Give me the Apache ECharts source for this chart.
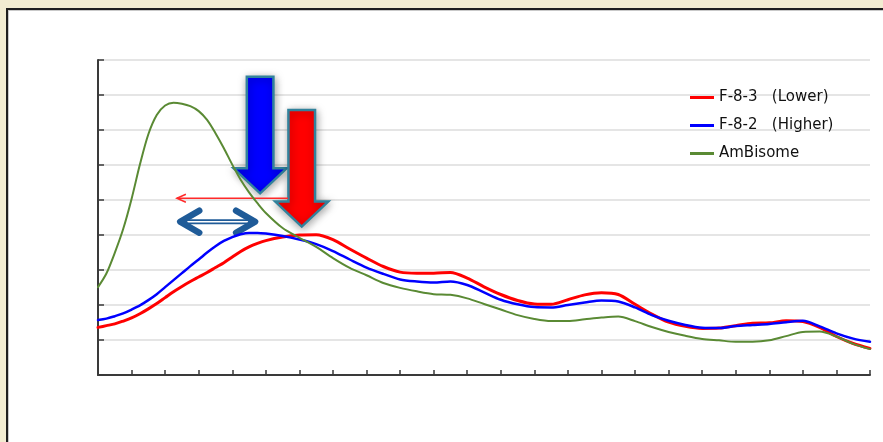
<!DOCTYPE html>
<html>
<head>
<meta charset="utf-8">
<script src="https://cdn.jsdelivr.net/npm/echarts@6/dist/echarts.min.js"></script>
<style>
  html, body { margin: 0; padding: 0; width: 883px; height: 442px; overflow: hidden; background: #f2ecd1; }
  #panel { position: absolute; left: 6px; top: 8px; width: 920px; height: 480px; background: #fff;
           border: 2px solid #1e1e1e; box-shadow: inset 1px 1px 0 #c9c9c9; }
  #chart { position: absolute; left: 0; top: 0; width: 883px; height: 442px; }
</style>
</head>
<body>
<div id="panel"></div>
<div id="chart"></div>
<script>
// Sample positions along the x axis (axis units, one unit per tick)
const positions = [
  0, 0.25, 0.5, 0.75, 1, 1.25, 1.5, 1.75, 2, 2.25, 2.5, 2.75, 3, 3.25, 3.5, 3.75, 4, 4.25, 4.5, 4.75, 5,
  5.5, 6, 6.5, 7, 7.5, 8, 8.5, 9, 9.5, 10, 10.5, 11, 11.5, 12, 12.5, 13, 13.5, 14, 14.5, 15,
  15.5, 16, 16.5, 17, 17.5, 18, 18.5, 19, 19.5, 20, 20.5, 21, 21.5, 22, 22.5, 23
];

// F-8-3 (Lower)
const lowerF83 = [
  1.36, 1.41, 1.46, 1.54, 1.63, 1.75, 1.89, 2.04, 2.21, 2.38, 2.53, 2.67, 2.80, 2.93, 3.07, 3.21, 3.37, 3.53, 3.66, 3.76, 3.84,
  3.94, 4.00, 4.01, 3.87, 3.60, 3.34, 3.10, 2.94, 2.91, 2.91, 2.93, 2.77, 2.52, 2.30, 2.13, 2.03, 2.02, 2.15, 2.29, 2.35,
  2.30, 2.02, 1.74, 1.51, 1.39, 1.33, 1.34, 1.41, 1.48, 1.49, 1.55, 1.53, 1.36, 1.10, 0.90, 0.76
];

// F-8-2 (Higher)
const higherF82 = [
  1.57, 1.61, 1.68, 1.76, 1.87, 1.99, 2.14, 2.31, 2.51, 2.71, 2.91, 3.11, 3.30, 3.50, 3.68, 3.83, 3.94, 4.02, 4.06, 4.06, 4.04,
  3.97, 3.87, 3.74, 3.54, 3.30, 3.07, 2.89, 2.73, 2.67, 2.64, 2.67, 2.57, 2.36, 2.15, 2.02, 1.94, 1.93, 2.00, 2.07, 2.13,
  2.10, 1.93, 1.71, 1.55, 1.43, 1.35, 1.34, 1.40, 1.43, 1.46, 1.51, 1.55, 1.39, 1.19, 1.04, 0.95
];

// AmBisome
const ambisome = [
  2.51, 2.90, 3.49, 4.17, 5.03, 6.02, 6.88, 7.43, 7.70, 7.78, 7.75, 7.68, 7.54, 7.29, 6.91, 6.48, 6.01, 5.58, 5.22, 4.91, 4.63,
  4.20, 3.92, 3.66, 3.34, 3.06, 2.85, 2.63, 2.49, 2.39, 2.31, 2.29, 2.19, 2.03, 1.87, 1.71, 1.60, 1.54, 1.54, 1.59, 1.64,
  1.67, 1.54, 1.37, 1.23, 1.12, 1.03, 0.99, 0.95, 0.95, 0.99, 1.11, 1.23, 1.24, 1.10, 0.89, 0.74
];

const seriesNames = ['F-8-3   (Lower)', 'F-8-2   (Higher)', 'AmBisome'];
const seriesValues = [lowerF83, higherF82, ambisome];
const seriesColors = ['#ff0000', '#0000ff', '#5a8a34'];
const seriesWidths = [3, 2.5, 2];

// Annotation anchors, in axis units
const bigArrowTips = [[4.83, 5.19], [6.07, 4.24]];
const bigArrowFills = ['#0000ff', '#ff0000'];
const shiftArrow = { from: [5.66, 5.05], to: [2.35, 5.05] };
const rangeArrow = { left: [2.39, 4.38], right: [4.74, 4.38] };

const chart = echarts.init(document.getElementById('chart'), null, { renderer: 'canvas' });

const series = seriesNames.map((name, i) => ({
  name: name,
  type: 'line',
  data: positions.map((x, k) => [x, seriesValues[i][k]]),
  smooth: 0.3,
  showSymbol: false,
  symbol: 'none',
  color: seriesColors[i],
  lineStyle: { color: seriesColors[i], width: seriesWidths[i], cap: 'round', join: 'round' },
  z: 3 + i
}));

chart.setOption({
  animation: false,
  grid: { left: 98, right: 13, top: 60, bottom: 67, containLabel: false },
  legend: {
    orient: 'vertical',
    left: 685,
    top: 85,
    itemWidth: 24,
    itemHeight: 3,
    itemGap: 13,
    icon: 'rect',
    data: seriesNames,
    textStyle: { fontFamily: 'DejaVu Sans', fontSize: 15, color: '#111' }
  },
  xAxis: {
    type: 'value',
    min: 0, max: 23, interval: 1,
    axisLine: { show: true, lineStyle: { color: '#3a3a3a', width: 2 } },
    axisTick: { show: true, inside: true, length: 5, lineStyle: { color: '#3a3a3a', width: 1.5 } },
    axisLabel: { show: false },
    splitLine: { show: false }
  },
  yAxis: {
    type: 'value',
    min: 0, max: 9, interval: 1,
    axisLine: { show: true, lineStyle: { color: '#3a3a3a', width: 2 } },
    axisTick: { show: true, inside: true, length: 6, lineStyle: { color: '#3a3a3a', width: 1.5 } },
    axisLabel: { show: false },
    splitLine: { show: true, lineStyle: { color: '#dcdcdc', width: 1.5 } }
  },
  series: series
});

// Annotation arrows placed through the grid's coordinate system
function px(p) { return chart.convertToPixel({ gridIndex: 0 }, p); }

const graphics = [];
const arrowEdge = '#31829c';
bigArrowTips.forEach((tip, i) => {
  const [tx, ty] = px(tip);
  graphics.push({
    type: 'polygon',
    z: 1,
    shape: { points: [
      [tx - 13.3, ty - 116.6], [tx + 13.3, ty - 116.6], [tx + 13.3, ty - 25], [tx + 26.5, ty - 25],
      [tx, ty], [tx - 26.5, ty - 25], [tx - 13.3, ty - 25]
    ] },
    style: {
      fill: bigArrowFills[i], stroke: arrowEdge, lineWidth: 2.5, lineJoin: 'miter',
      shadowBlur: 8, shadowColor: 'rgba(0,0,0,0.35)', shadowOffsetX: 1, shadowOffsetY: 2
    }
  });
});

// thin red shift arrow
{
  const a = px(shiftArrow.from), b = px(shiftArrow.to);
  graphics.push({ type: 'line', z: 1, shape: { x1: a[0], y1: a[1], x2: b[0], y2: b[1] },
    style: { stroke: '#ff2a2a', lineWidth: 1.5 } });
  graphics.push({ type: 'polyline', z: 1,
    shape: { points: [[b[0] + 9, b[1] - 4], [b[0], b[1]], [b[0] + 9, b[1] + 4]] },
    style: { stroke: '#ff2a2a', lineWidth: 1.5, fill: null } });
}

// double-headed range arrow
{
  const l = px(rangeArrow.left), r = px(rangeArrow.right);
  const c = '#1f5b98', y = l[1];
  graphics.push({ type: 'line', z: 1, shape: { x1: l[0] + 4, y1: y, x2: r[0] - 4, y2: y },
    style: { stroke: c, lineWidth: 5 } });
  graphics.push({ type: 'line', z: 1, shape: { x1: l[0] + 9, y1: y, x2: r[0] - 9, y2: y },
    style: { stroke: '#ffffff', lineWidth: 1.5 } });
  graphics.push({ type: 'polyline', z: 1,
    shape: { points: [[l[0] + 21, y - 11], [l[0] + 2, y], [l[0] + 21, y + 11]] },
    style: { stroke: c, lineWidth: 6.5, lineCap: 'round', lineJoin: 'round', fill: null } });
  graphics.push({ type: 'polyline', z: 1,
    shape: { points: [[r[0] - 21, y - 11], [r[0] - 2, y], [r[0] - 21, y + 11]] },
    style: { stroke: c, lineWidth: 6.5, lineCap: 'round', lineJoin: 'round', fill: null } });
}

chart.setOption({ graphic: { elements: graphics } });
</script>
</body>
</html>
